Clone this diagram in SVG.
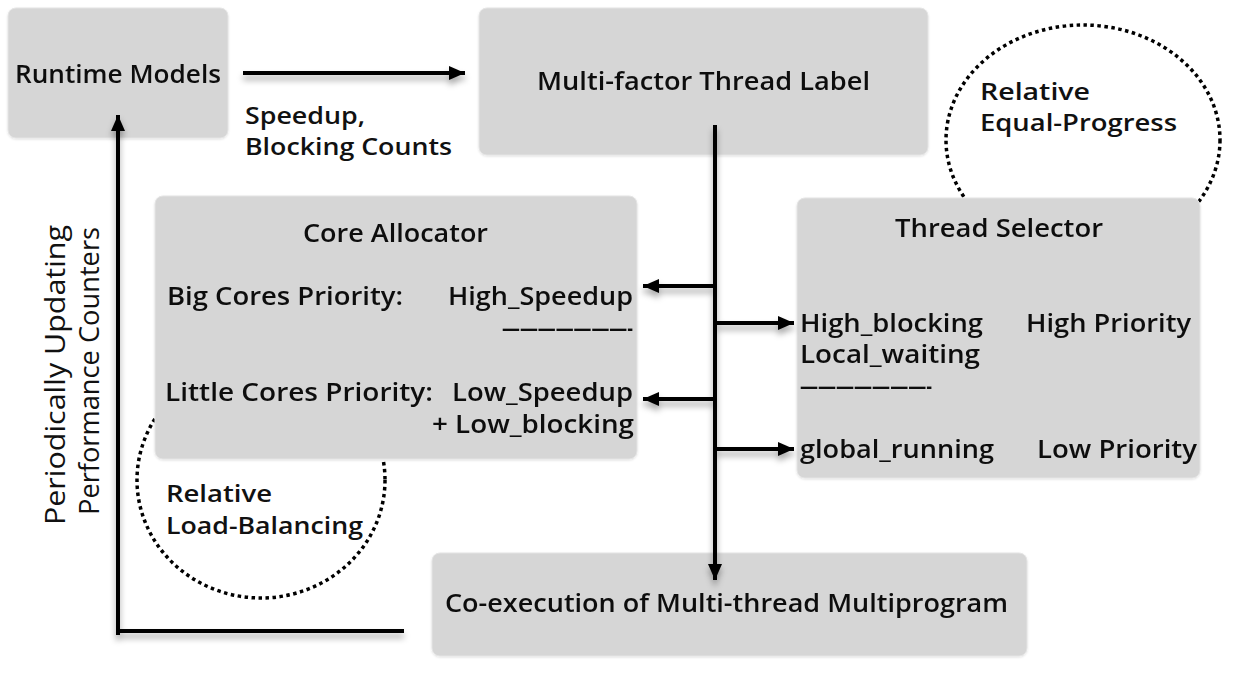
<svg xmlns="http://www.w3.org/2000/svg" width="1252" height="674" viewBox="0 0 1252 674">
<style>
.box{fill:#d6d6d6;stroke:#e4e4e4;stroke-width:1}
.t{font-family:"Open Sans","DejaVu Sans",sans-serif;font-weight:600;font-size:25px;fill:#111}
.s{font-size:24px}
.r{font-family:"Open Sans","DejaVu Sans",sans-serif;font-weight:400;font-size:27px;fill:#111}
.ln{stroke:#000;stroke-width:4;fill:none}
.dot{fill:none;stroke:#000;stroke-width:3.5;stroke-dasharray:3.5 3.5}
</style>
<defs>
<marker id="ah" markerUnits="userSpaceOnUse" markerWidth="18" markerHeight="14" refX="16" refY="7" orient="auto">
<path d="M0,0 L16,7 L0,14 z" fill="#000"/>
</marker>
<filter id="sh" x="-10%" y="-50%" width="120%" height="300%">
<feDropShadow dx="0" dy="5" stdDeviation="3" flood-color="#000" flood-opacity="0.35"/>
</filter>
<filter id="bs" x="-5%" y="-5%" width="110%" height="115%">
<feDropShadow dx="0" dy="1" stdDeviation="1" flood-color="#000" flood-opacity="0.12"/>
</filter>
</defs>

<g id="circle-equal-progress">
<ellipse class="dot" cx="1083" cy="140" rx="137" ry="115"/>
<text class="t s" x="980" y="100" textLength="110" lengthAdjust="spacingAndGlyphs">Relative</text>
<text class="t s" x="980" y="131" textLength="197" lengthAdjust="spacingAndGlyphs">Equal-Progress</text>
</g>

<g id="circle-load-balancing">
<ellipse class="dot" cx="261" cy="480" rx="124" ry="118"/>
<text class="t s" x="166" y="502" textLength="106" lengthAdjust="spacingAndGlyphs">Relative</text>
<text class="t s" x="166" y="534" textLength="197" lengthAdjust="spacingAndGlyphs">Load-Balancing</text>
</g>

<g id="runtime-models" filter="url(#bs)">
<rect class="box" x="8" y="8" width="220" height="130" rx="8"/>
<text class="t" x="15" y="83" textLength="206" lengthAdjust="spacingAndGlyphs">Runtime Models</text>
</g>

<g id="thread-label" filter="url(#bs)">
<rect class="box" x="479" y="8" width="449" height="147" rx="8"/>
<text class="t" x="537" y="90" textLength="333" lengthAdjust="spacingAndGlyphs">Multi-factor Thread Label</text>
</g>

<g id="core-allocator" filter="url(#bs)">
<rect class="box" x="155" y="196" width="482" height="263" rx="8"/>
<text class="t" x="303" y="242" textLength="185" lengthAdjust="spacingAndGlyphs">Core Allocator</text>
<text class="t" x="167" y="305" textLength="236" lengthAdjust="spacingAndGlyphs">Big Cores Priority:</text>
<text class="t" x="448" y="305" textLength="185" lengthAdjust="spacingAndGlyphs">High_Speedup</text>
<text class="t" x="502" y="337" textLength="131" lengthAdjust="spacingAndGlyphs">———————-</text>
<text class="t" x="165" y="401" textLength="268" lengthAdjust="spacingAndGlyphs">Little Cores Priority:</text>
<text class="t" x="452" y="401" textLength="181" lengthAdjust="spacingAndGlyphs">Low_Speedup</text>
<text class="t" x="432" y="433" textLength="202" lengthAdjust="spacingAndGlyphs">+ Low_blocking</text>
</g>

<g id="thread-selector" filter="url(#bs)">
<rect class="box" x="797" y="198" width="403" height="280" rx="8"/>
<text class="t" x="895" y="237" textLength="208" lengthAdjust="spacingAndGlyphs">Thread Selector</text>
<text class="t" x="800" y="332" textLength="183" lengthAdjust="spacingAndGlyphs">High_blocking</text>
<text class="t" x="1026" y="332" textLength="165" lengthAdjust="spacingAndGlyphs">High Priority</text>
<text class="t" x="800" y="363" textLength="180" lengthAdjust="spacingAndGlyphs">Local_waiting</text>
<text class="t" x="800" y="395" textLength="132" lengthAdjust="spacingAndGlyphs">———————-</text>
<text class="t" x="800" y="458" textLength="194" lengthAdjust="spacingAndGlyphs">global_running</text>
<text class="t" x="1037" y="458" textLength="160" lengthAdjust="spacingAndGlyphs">Low Priority</text>
</g>

<g id="co-execution" filter="url(#bs)">
<rect class="box" x="432" y="553" width="595" height="103" rx="8"/>
<text class="t" x="445" y="612" textLength="563" lengthAdjust="spacingAndGlyphs">Co-execution of Multi-thread Multiprogram</text>
</g>

<g id="connectors">
<g filter="url(#sh)">
<line class="ln" x1="243" y1="73" x2="465" y2="73" marker-end="url(#ah)"/>
<line class="ln" x1="715" y1="125" x2="715" y2="580" marker-end="url(#ah)"/>
<line class="ln" x1="715" y1="286" x2="643" y2="286" marker-end="url(#ah)"/>
<line class="ln" x1="715" y1="399" x2="643" y2="399" marker-end="url(#ah)"/>
<line class="ln" x1="715" y1="323" x2="794" y2="323" marker-end="url(#ah)"/>
<line class="ln" x1="715" y1="449" x2="794" y2="449" marker-end="url(#ah)"/>
<line class="ln" x1="118" y1="631" x2="404" y2="631"/>
<line class="ln" x1="118" y1="635" x2="118" y2="115" marker-end="url(#ah)"/>
</g>
<text class="t s" x="245" y="124" textLength="120" lengthAdjust="spacingAndGlyphs">Speedup,</text>
<text class="t s" x="245" y="155" textLength="207" lengthAdjust="spacingAndGlyphs">Blocking Counts</text>
<text class="r" transform="translate(65,375) rotate(-90)" text-anchor="middle" textLength="300" lengthAdjust="spacingAndGlyphs">Periodically Updating</text>
<text class="r" transform="translate(99,371) rotate(-90)" text-anchor="middle" textLength="288" lengthAdjust="spacingAndGlyphs">Performance Counters</text>
</g>
</svg>
